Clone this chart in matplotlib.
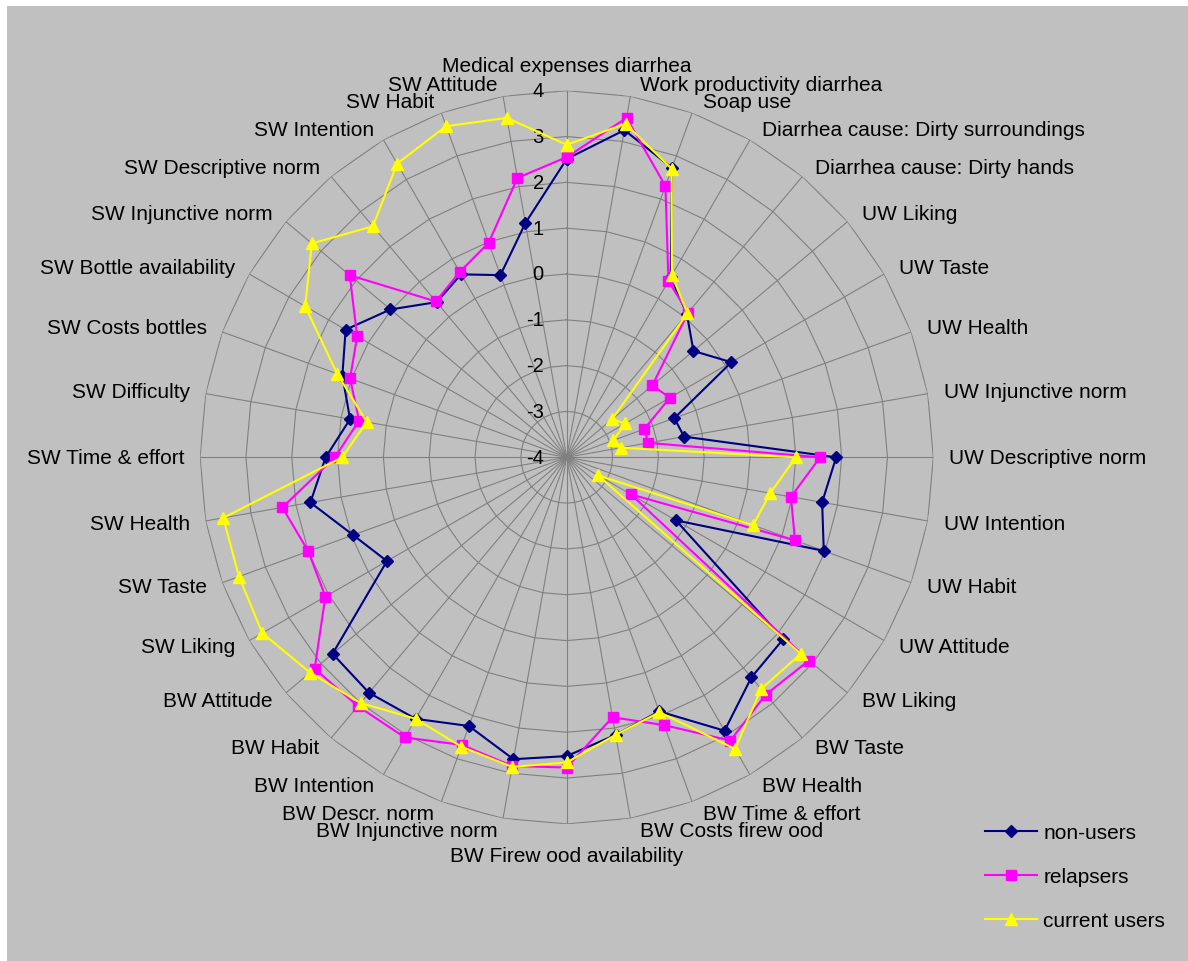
import numpy as np
import matplotlib
matplotlib.use("Agg")
import matplotlib.pyplot as plt
from matplotlib.patches import Rectangle

plt.rcParams["font.family"] = ["Liberation Sans", "DejaVu Sans"]

categories = [
    "Medical expenses diarrhea", "Work productivity diarrhea", "Soap use",
    "Diarrhea cause: Dirty surroundings", "Diarrhea cause: Dirty hands",
    "UW Liking", "UW Taste", "UW Health", "UW Injunctive norm",
    "UW Descriptive norm", "UW Intention", "UW Habit", "UW Attitude",
    "BW Liking", "BW Taste", "BW Health", "BW Time & effort",
    "BW Costs firew ood", "BW Firew ood availability", "BW Injunctive norm",
    "BW Descr. norm", "BW Intention", "BW Habit", "BW Attitude",
    "SW Liking", "SW Taste", "SW Health", "SW Time & effort", "SW Difficulty",
    "SW Costs bottles", "SW Bottle availability", "SW Injunctive norm",
    "SW Descriptive norm", "SW Intention", "SW Habit", "SW Attitude",
]

non_users = [2.51, 3.25, 2.72, 0.54, 0.08, -0.39, 0.15, -1.50, -1.40,
             1.88, 1.66, 1.97, -1.25, 2.17, 2.27, 2.89, 1.90, 2.15,
             2.52, 2.69, 2.24, 2.59, 2.71, 2.67, 0.53, 0.96, 1.68,
             1.26, 0.80, 1.21, 1.57, 1.02, 0.42, 0.61, 0.23, 1.19]
relapsers = [2.55, 3.52, 2.30, 0.44, 0.12, -1.56, -1.40, -2.20, -2.19,
             1.53, 0.97, 1.30, -2.38, 2.90, 2.76, 3.14, 2.22, 1.76,
             2.77, 2.84, 2.68, 3.06, 3.09, 3.18, 2.08, 2.00, 2.30,
             1.06, 0.60, 1.03, 1.28, 2.18, 0.44, 0.67, 0.98, 2.19]
current_users = [2.82, 3.39, 2.70, 0.59, 0.10, -2.71, -2.52, -2.92, -2.79,
                 1.00, 0.51, 0.33, -3.21, 2.67, 2.60, 3.35, 1.92, 2.15,
                 2.66, 2.86, 2.72, 2.59, 3.00, 3.31, 3.67, 3.61, 3.61,
                 0.90, 0.43, 1.33, 2.59, 3.26, 2.58, 3.40, 3.69, 3.52]

levels = [-4, -3, -2, -1, 0, 1, 2, 3, 4]

W, H = 1188, 962
fig = plt.figure(figsize=(W / 100, H / 100), dpi=100, facecolor="white")
fig.patches.append(Rectangle((7 / W, 0), 1 - 7 / W, 1 - 7 / H,
                             transform=fig.transFigure, facecolor="#c0c0c0",
                             edgecolor="none", zorder=-10))

# plot area: centre (566.7, 458.3) px, outer radius 366.6 px
cx, cy, rad = 566.7, 458.3, 366.6
ax = fig.add_axes([(cx - rad) / W, (H - cy - rad) / H, 2 * rad / W, 2 * rad / H],
                  projection="polar")
ax.set_theta_zero_location("N")
ax.set_theta_direction(-1)
ax.set_ylim(levels[0], levels[-1])
ax.set_xticks([])
ax.set_yticks([])
ax.grid(False)
ax.spines["polar"].set_visible(False)
ax.patch.set_alpha(0)

n = len(categories)
theta = np.deg2rad(np.arange(n) * 360.0 / n)
closed = np.append(theta, theta[0])

grid_kw = dict(color="#808080", lw=0.8, zorder=1)
for t in theta:
    ax.plot([t, t], [levels[0], levels[-1]], **grid_kw)
for lv in levels[1:]:
    ax.plot(closed, [lv] * (n + 1), **grid_kw)

for lv in levels:
    ax.annotate(str(lv), xy=(0, lv), xytext=(-23, 0), textcoords="offset pixels",
                ha="right", va="center", fontsize=14.5, color="black")

series = [
    ("non-users", non_users, "#000080", "D", 6.2),
    ("relapsers", relapsers, "#ff00ff", "s", 7.6),
    ("current users", current_users, "#ffff00", "^", 9.0),
]
handles = []
for i, (name, vals, col, mk, ms) in enumerate(series):
    v = np.append(vals, vals[0])
    h, = ax.plot(closed, v, color=col, lw=1.5, marker=mk, ms=ms,
                 mfc=col, mec=col, label=name, zorder=3 + i, clip_on=False)
    handles.append(h)

# category labels around the outer ring
for t, name in zip(theta, categories):
    s, c = np.sin(t), np.cos(t)
    if abs(s) < 1e-6:
        if c > 0:
            off, ha, va = (0, 25), "center", "center"
        else:
            off, ha, va = (0, -32), "center", "center"
    elif s > 0:
        off, ha, va = (8 + 8 * s, 12 * c), "left", "center"
    else:
        off, ha, va = (-(3 + 13 * abs(s)), 12 * c), "right", "center"
    ax.annotate(name, xy=(t, levels[-1]), xytext=off, textcoords="offset pixels",
                ha=ha, va=va, fontsize=15, color="black", annotation_clip=False)

fig.legend(handles=handles, loc="center left",
           bbox_to_anchor=(985 / W, 1 - 878 / H), frameon=False,
           fontsize=15, borderpad=0, borderaxespad=0, handlelength=2.5,
           handletextpad=0.3, labelspacing=1.2)

fig.savefig("out.png", dpi=100, facecolor=fig.get_facecolor())
